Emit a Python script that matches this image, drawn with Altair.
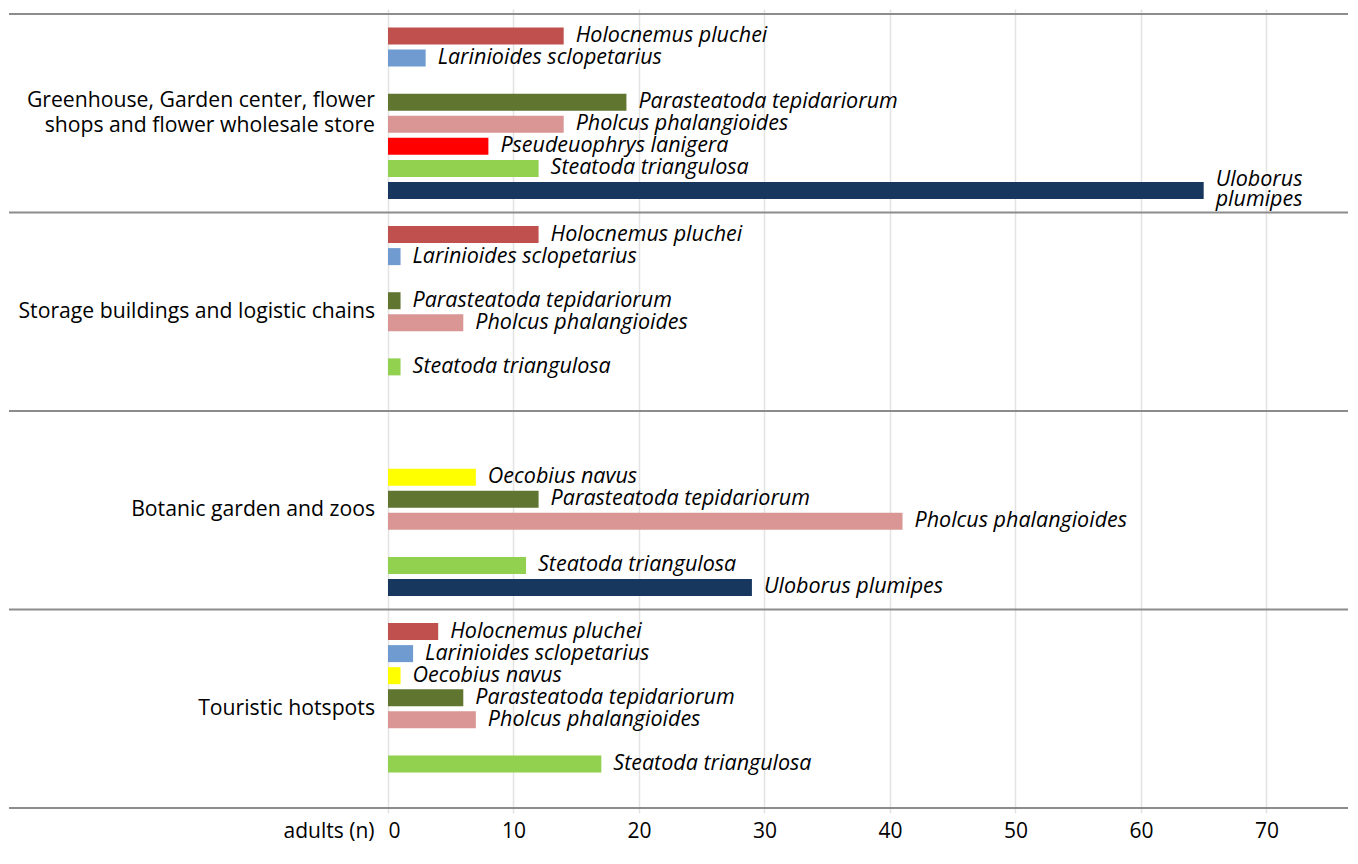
import altair as alt
import pandas as pd

FONT = "Open Sans"

habitats = [
    "Greenhouse, Garden center, flower\nshops and flower wholesale store",
    "Storage buildings and logistic chains",
    "Botanic garden and zoos",
    "Touristic hotspots",
]
species = [
    "Holocnemus pluchei",
    "Larinioides sclopetarius",
    "Oecobius navus",
    "Parasteatoda tepidariorum",
    "Pholcus phalangioides",
    "Pseudeuophrys lanigera",
    "Steatoda triangulosa",
    "Uloborus plumipes",
]
species_colors = ["#c0504d", "#6f9bd0", "#ffff00", "#5f7530",
                  "#d99694", "#ff0000", "#92d050", "#17375e"]

greenhouse = [14, 3, None, 19, 14, 8, 12, 65]
storage = [12, 1, None, 1, 6, None, 1, None]
botanic = [None, None, 7, 12, 41, None, 11, 29]
touristic = [4, 2, 1, 6, 7, None, 17, None]
x_ticks = [0, 10, 20, 30, 40, 50, 60, 70]

series = [greenhouse, storage, botanic, touristic]
n_sp = len(species)
group_step = n_sp + 1

rows = []
for g, vals in enumerate(series):
    for i, (sp, v) in enumerate(zip(species, vals)):
        if v is not None:
            rows.append({"habitat": habitats[g], "species": sp, "n": v,
                         "slot": g * group_step + i + 1})
df = pd.DataFrame(rows)

groups = pd.DataFrame({"habitat": habitats,
                       "center": [g * group_step + group_step / 2 for g in range(len(habitats))]})
seps = pd.DataFrame({"pos": [g * group_step for g in range(len(habitats) + 1)]})

W, H = 960, 804
xscale = alt.Scale(domain=[0, 76.5], nice=False, zero=True)
yscale = alt.Scale(domain=[0, len(habitats) * group_step], reverse=True, nice=False, zero=False)

xaxis = alt.Axis(values=x_ticks, title="adults (n)", titleX=-14, titleY=7,
                 titleAlign="right", titleBaseline="top", titleFontWeight="normal",
                 titleFontSize=21, titleFont=FONT, titleColor="black",
                 labelFontSize=21, labelFont=FONT, labelColor="black", labelPadding=7,
                 ticks=False, domain=False, grid=True, gridColor="#e3e3e3", gridWidth=1.5)

bars = alt.Chart(df).mark_bar(orient="horizontal", size=17).encode(
    x=alt.X("n:Q", scale=xscale, axis=xaxis),
    y=alt.Y("slot:Q", scale=yscale, axis=None),
    color=alt.Color("species:N", scale=alt.Scale(domain=species, range=species_colors), legend=None),
)

LBL_FS, LBL_LH = 21.5, 20
label_base = alt.Chart(df).transform_calculate(
    wrapped="datum.n > 60"
)
labels_single = label_base.transform_filter("!datum.wrapped").mark_text(
    align="left", baseline="middle", dx=12, fontStyle="italic", fontSize=LBL_FS,
    font=FONT, color="black").encode(
    x=alt.X("n:Q", scale=xscale),
    y=alt.Y("slot:Q", scale=yscale),
    text="species:N",
)
labels_wrapped = label_base.transform_filter("datum.wrapped").transform_calculate(
    label="split(datum.species, ' ')"
).mark_text(
    align="left", baseline="middle", dx=12, dy=-LBL_LH / 2, fontStyle="italic",
    fontSize=LBL_FS, font=FONT, lineHeight=LBL_LH, color="black").encode(
    x=alt.X("n:Q", scale=xscale),
    y=alt.Y("slot:Q", scale=yscale),
    text="label:N",
)

GRP_FS, GRP_LH = 21.2, 25
grp_base = alt.Chart(groups).transform_calculate(
    lines="split(datum.habitat, '\\n')",
    multi="indexof(datum.habitat, '\\n') >= 0",
)
group_single = grp_base.transform_filter("!datum.multi").mark_text(
    align="right", baseline="middle", fontSize=GRP_FS, font=FONT, color="black").encode(
    x=alt.value(-13),
    y=alt.Y("center:Q", scale=yscale),
    text="habitat:N",
)
group_multi = grp_base.transform_filter("datum.multi").mark_text(
    align="right", baseline="middle", fontSize=GRP_FS, font=FONT, lineHeight=GRP_LH,
    dy=-GRP_LH / 2, color="black").encode(
    x=alt.value(-13),
    y=alt.Y("center:Q", scale=yscale),
    text="lines:N",
)

rules = alt.Chart(seps).mark_rule(color="#8c8c8c", strokeWidth=2).encode(
    y=alt.Y("pos:Q", scale=yscale),
    x=alt.value(-379),
    x2=alt.value(W),
)

chart = alt.layer(bars, labels_single, labels_wrapped, group_single, group_multi, rules).properties(
    width=W, height=H,
    padding={"left": 0, "top": 1, "right": 0, "bottom": 3},
    background="white",
).configure_view(stroke=None)

chart.save("out.html", embed_options={"renderer": "svg", "actions": False})
